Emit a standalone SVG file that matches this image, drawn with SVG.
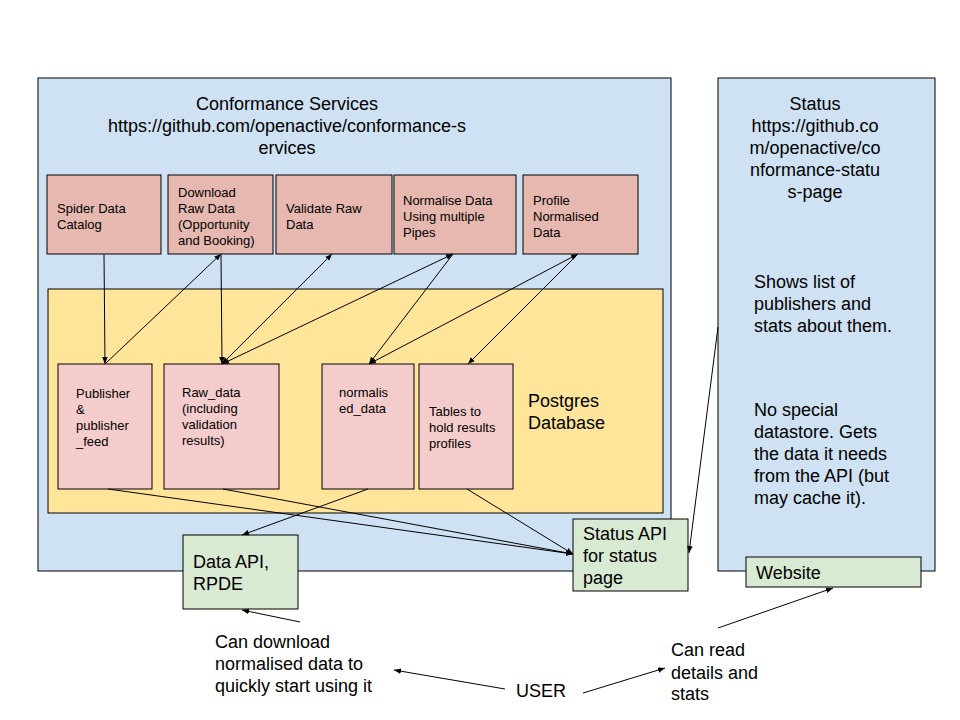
<svg xmlns="http://www.w3.org/2000/svg" width="960" height="720" viewBox="0 0 960 720">
<defs>
<marker id="arr" viewBox="0 0 10 10" refX="10" refY="5" markerWidth="7" markerHeight="7" markerUnits="userSpaceOnUse" orient="auto-start-reverse">
<path d="M0,1 L10,5 L0,9 Z" fill="#000"/>
</marker>
<style>
text{font-family:"Liberation Sans",Arial,sans-serif;fill:#000}
.big{font-size:18px}
.sm{font-size:13px}
.box{stroke:#000;stroke-width:1}
.blue{fill:#cfe2f3}
.yellow{fill:#ffe599}
.task{fill:#e6b8af}
.table{fill:#f4cccc}
.green{fill:#d9ead3}
.c line{stroke:#000;stroke-width:1;fill:none}
</style>
</defs>
<rect width="960" height="720" fill="#fff"/>

<g id="conformance-services">
<rect class="box blue" x="38" y="78" width="633" height="493"/>
<text class="big" text-anchor="middle"><tspan x="287" y="110">Conformance Services</tspan><tspan x="287" y="132">https://github.com/openactive/conformance-s</tspan><tspan x="287" y="154">ervices</tspan></text>
</g>

<g id="status">
<rect class="box blue" x="718" y="78" width="217" height="493"/>
<text class="big" text-anchor="middle"><tspan x="815" y="110">Status</tspan><tspan x="815" y="132">https://github.co</tspan><tspan x="815" y="154">m/openactive/co</tspan><tspan x="815" y="176">nformance-statu</tspan><tspan x="815" y="198">s-page</tspan></text>
<text class="big"><tspan x="754" y="288">Shows list of</tspan><tspan x="754" y="310">publishers and</tspan><tspan x="754" y="332">stats about them.</tspan></text>
<text class="big"><tspan x="754" y="416">No special</tspan><tspan x="754" y="438">datastore. Gets</tspan><tspan x="754" y="460">the data it needs</tspan><tspan x="754" y="482">from the API (but</tspan><tspan x="754" y="504">may cache it).</tspan></text>
</g>

<g id="postgres">
<rect class="box yellow" x="48" y="289" width="615" height="224"/>
<text class="big"><tspan x="528" y="407">Postgres</tspan><tspan x="528" y="429">Database</tspan></text>
</g>

<g id="spider">
<rect class="box task" x="47" y="175" width="114" height="79"/>
<text class="sm"><tspan x="57" y="213">Spider Data</tspan><tspan x="57" y="229">Catalog</tspan></text>
</g>
<g id="download">
<rect class="box task" x="168" y="175" width="105" height="79"/>
<text class="sm"><tspan x="178" y="197">Download</tspan><tspan x="178" y="213">Raw Data</tspan><tspan x="178" y="229">(Opportunity</tspan><tspan x="178" y="245">and Booking)</tspan></text>
</g>
<g id="validate">
<rect class="box task" x="276" y="175" width="116" height="79"/>
<text class="sm"><tspan x="286" y="213">Validate Raw</tspan><tspan x="286" y="229">Data</tspan></text>
</g>
<g id="normalise">
<rect class="box task" x="394" y="175" width="122" height="79"/>
<text class="sm"><tspan x="403" y="205">Normalise Data</tspan><tspan x="403" y="221">Using multiple</tspan><tspan x="403" y="237">Pipes</tspan></text>
</g>
<g id="profile">
<rect class="box task" x="523" y="175" width="115" height="79"/>
<text class="sm"><tspan x="533" y="205">Profile</tspan><tspan x="533" y="221">Normalised</tspan><tspan x="533" y="237">Data</tspan></text>
</g>

<g id="publisher-table">
<rect class="box table" x="58" y="364" width="94" height="125"/>
<text class="sm"><tspan x="76" y="398">Publisher</tspan><tspan x="76" y="414">&amp;</tspan><tspan x="76" y="430">publisher</tspan><tspan x="76" y="446">_feed</tspan></text>
</g>
<g id="raw-data-table">
<rect class="box table" x="164" y="364" width="115" height="125"/>
<text class="sm"><tspan x="182" y="397">Raw_data</tspan><tspan x="182" y="413">(including</tspan><tspan x="182" y="429">validation</tspan><tspan x="182" y="445">results)</tspan></text>
</g>
<g id="normalised-data-table">
<rect class="box table" x="322" y="364" width="92" height="125"/>
<text class="sm"><tspan x="339" y="397">normalis</tspan><tspan x="339" y="413">ed_data</tspan></text>
</g>
<g id="profile-tables">
<rect class="box table" x="419" y="364" width="94" height="125"/>
<text class="sm"><tspan x="429" y="416">Tables to</tspan><tspan x="429" y="432">hold results</tspan><tspan x="429" y="448">profiles</tspan></text>
</g>

<g id="data-api">
<rect class="box green" x="183" y="535" width="115" height="74"/>
<text class="big"><tspan x="193" y="568">Data API,</tspan><tspan x="193" y="590">RPDE</tspan></text>
</g>
<g id="status-api">
<rect class="box green" x="573" y="519" width="115" height="72"/>
<text class="big"><tspan x="583" y="540">Status API</tspan><tspan x="583" y="562">for status</tspan><tspan x="583" y="584">page</tspan></text>
</g>
<g id="website">
<rect class="box green" x="746" y="557" width="175" height="30"/>
<text class="big" x="756" y="579">Website</text>
</g>

<g id="user-texts">
<text class="big"><tspan x="215" y="648">Can download</tspan><tspan x="215" y="670">normalised data to</tspan><tspan x="215" y="692">quickly start using it</tspan></text>
<text class="big" x="516" y="697">USER</text>
<text class="big"><tspan x="671" y="656">Can read</tspan><tspan x="671" y="679">details and</tspan><tspan x="671" y="700">stats</tspan></text>
</g>

<g id="connectors" class="c">
<line x1="104" y1="254" x2="105" y2="364" marker-end="url(#arr)"/>
<line x1="105" y1="364" x2="221" y2="254" marker-end="url(#arr)"/>
<line x1="221" y1="254" x2="222" y2="364" marker-end="url(#arr)"/>
<line x1="222" y1="364" x2="332" y2="254" marker-start="url(#arr)" marker-end="url(#arr)"/>
<line x1="222" y1="364" x2="453" y2="254" marker-start="url(#arr)" marker-end="url(#arr)"/>
<line x1="453" y1="254" x2="369" y2="364" marker-end="url(#arr)"/>
<line x1="369" y1="364" x2="578" y2="254" marker-start="url(#arr)" marker-end="url(#arr)"/>
<line x1="578" y1="254" x2="468" y2="364" marker-end="url(#arr)"/>
<line x1="108" y1="489" x2="573" y2="554" marker-end="url(#arr)"/>
<line x1="223" y1="489" x2="573" y2="554" marker-end="url(#arr)"/>
<line x1="467" y1="489" x2="573" y2="554" marker-end="url(#arr)"/>
<line x1="368" y1="489" x2="242" y2="535" marker-end="url(#arr)"/>
<line x1="718" y1="327" x2="689" y2="553" marker-end="url(#arr)"/>
<line x1="300" y1="622" x2="242" y2="610" marker-end="url(#arr)"/>
<line x1="505" y1="689" x2="394" y2="670" marker-end="url(#arr)"/>
<line x1="583" y1="693" x2="665" y2="668" marker-end="url(#arr)"/>
<line x1="718" y1="628" x2="833" y2="588" marker-end="url(#arr)"/>
</g>
</svg>
